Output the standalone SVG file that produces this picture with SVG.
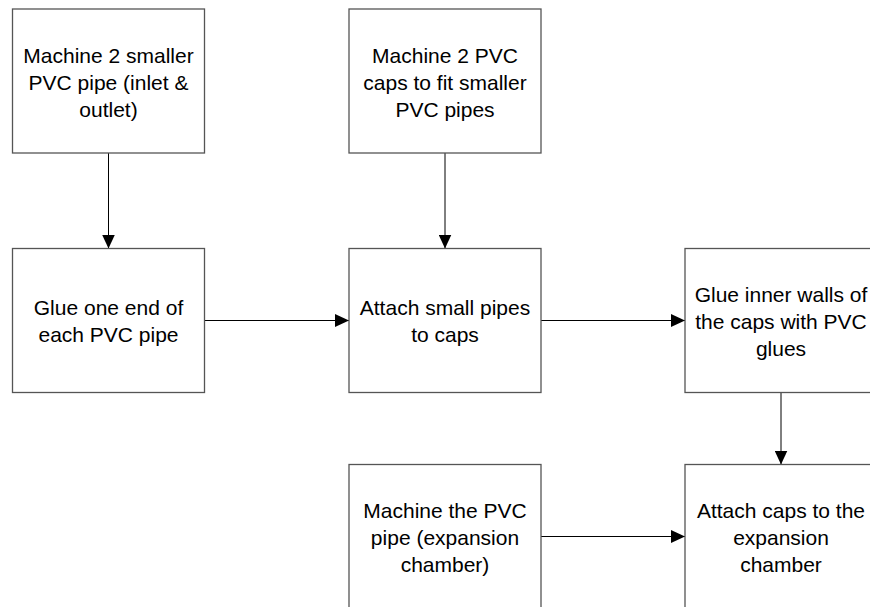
<svg xmlns="http://www.w3.org/2000/svg" width="870" height="607" viewBox="0 0 870 607">
<style>
.box{fill:#fff;stroke:#555;stroke-width:1.3}
.lbl{font-family:"Liberation Sans",Arial,sans-serif;font-size:21px;fill:#000;text-anchor:middle}
.edge{stroke:#000;stroke-width:1;fill:none;marker-end:url(#ah)}
</style>
<defs>
<marker id="ah" viewBox="0 0 14 13" refX="14" refY="6.5" markerWidth="14" markerHeight="13" markerUnits="userSpaceOnUse" orient="auto">
<path d="M0,0 L14,6.5 L0,13 Z" fill="#000"/>
</marker>
</defs>
<rect width="870" height="607" fill="#fff"/>
<g id="connectors">
<line class="edge" x1="108.5" y1="153" x2="108.5" y2="248.5"/>
<line class="edge" x1="445" y1="153" x2="445" y2="248.5"/>
<line class="edge" x1="204.5" y1="320.5" x2="349" y2="320.5"/>
<line class="edge" x1="541" y1="320.5" x2="685" y2="320.5"/>
<line class="edge" x1="781" y1="392.5" x2="781" y2="464.5"/>
<line class="edge" x1="541" y1="536.5" x2="685" y2="536.5"/>
</g>
<g id="n1">
<rect class="box" x="12.5" y="9" width="192" height="144"/>
<text class="lbl" x="108.5" y="62.5">Machine 2 smaller</text>
<text class="lbl" x="108.5" y="89.5">PVC pipe (inlet &amp;</text>
<text class="lbl" x="108.5" y="116.5">outlet)</text>
</g>
<g id="n2">
<rect class="box" x="349" y="9" width="192" height="144"/>
<text class="lbl" x="445" y="62.5">Machine 2 PVC</text>
<text class="lbl" x="445" y="89.5">caps to fit smaller</text>
<text class="lbl" x="445" y="116.5">PVC pipes</text>
</g>
<g id="n3">
<rect class="box" x="12.5" y="248.5" width="192" height="144"/>
<text class="lbl" x="108.5" y="315">Glue one end of</text>
<text class="lbl" x="108.5" y="342">each PVC pipe</text>
</g>
<g id="n4">
<rect class="box" x="349" y="248.5" width="192" height="144"/>
<text class="lbl" x="445" y="315">Attach small pipes</text>
<text class="lbl" x="445" y="342">to caps</text>
</g>
<g id="n5">
<rect class="box" x="685" y="248.5" width="192" height="144"/>
<text class="lbl" x="781" y="301.5">Glue inner walls of</text>
<text class="lbl" x="781" y="328.5">the caps with PVC</text>
<text class="lbl" x="781" y="355.5">glues</text>
</g>
<g id="n6">
<rect class="box" x="349" y="464.5" width="192" height="144"/>
<text class="lbl" x="445" y="517.5">Machine the PVC</text>
<text class="lbl" x="445" y="544.5">pipe (expansion</text>
<text class="lbl" x="445" y="571.5">chamber)</text>
</g>
<g id="n7">
<rect class="box" x="685" y="464.5" width="192" height="144"/>
<text class="lbl" x="781" y="517.5">Attach caps to the</text>
<text class="lbl" x="781" y="544.5">expansion</text>
<text class="lbl" x="781" y="571.5">chamber</text>
</g>
</svg>
